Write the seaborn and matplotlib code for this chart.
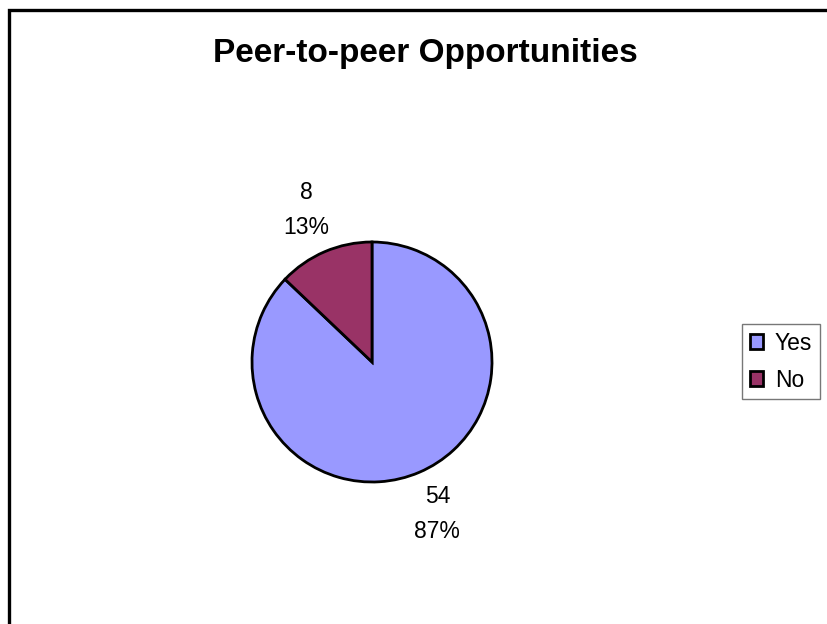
import numpy as np
import seaborn as sns
import matplotlib.pyplot as plt
from matplotlib.patches import Rectangle

# datos
categorias = ['Yes', 'No']
valores = [54, 8]
colores = ['#9999FF', '#993366']

sns.set_style('white')
plt.rcParams['font.family'] = ['Liberation Sans', 'DejaVu Sans']
plt.rcParams['text.color'] = 'black'

fig = plt.figure(figsize=(8.27, 6.24), dpi=100)

# marco exterior
fig.patches.append(Rectangle((9 / 827, -0.05), 1.2, 1 - 10 / 624 + 0.05,
                             transform=fig.transFigure, fill=False,
                             edgecolor='black', linewidth=2.4))

ax = fig.add_axes([252 / 827, 142 / 624, 240 / 827, 240 / 624])
wedges, _ = ax.pie(valores, colors=colores, startangle=90, counterclock=False,
                   radius=1, wedgeprops=dict(edgecolor='black', linewidth=2))
ax.set_xlim(-1, 1)
ax.set_ylim(-1, 1)
ax.set_aspect('equal')
ax.axis('off')

total = sum(valores)
for w, v in zip(wedges, valores):
    ang = np.deg2rad((w.theta1 + w.theta2) / 2)
    d = 1.38
    ax.text(d * np.cos(ang), d * np.sin(ang), f'{v}\n{v / total * 100:.0f}%',
            ha='center', va='center', fontsize=16.5, linespacing=1.7,
            clip_on=False)

fig.text(425 / 827, 1 - 62 / 624, 'Peer-to-peer Opportunities',
         ha='center', va='baseline', fontsize=24, fontweight='bold')

handles = [Rectangle((0, 0), 1, 1, facecolor=c, edgecolor='black', linewidth=2)
           for c in colores]
leg = fig.legend(handles, categorias, loc='upper left',
                 bbox_to_anchor=(742 / 827, 1 - 324 / 624), fontsize=16.5,
                 frameon=True, fancybox=False, handlelength=0.6,
                 handleheight=0.6, handletextpad=0.5, labelspacing=0.62,
                 borderpad=0.33, borderaxespad=0)
leg.get_frame().set_edgecolor('#555555')
leg.get_frame().set_linewidth(1)

fig.savefig('out.png', dpi=100)
